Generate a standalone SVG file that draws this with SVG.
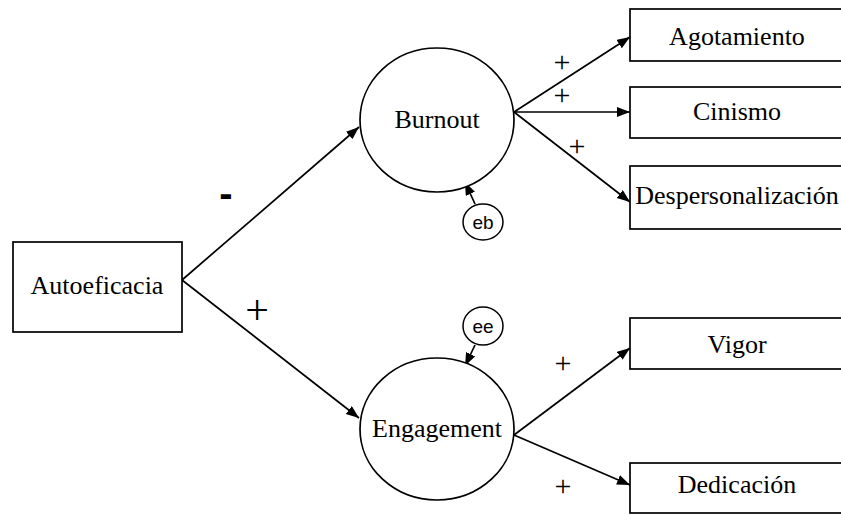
<svg xmlns="http://www.w3.org/2000/svg" width="841" height="515" viewBox="0 0 841 515">
  <style>
    .box { fill: #ffffff; stroke: #000000; stroke-width: 1.7; }
    .lat { fill: #ffffff; stroke: #000000; stroke-width: 1.7; }
    .err { fill: #ffffff; stroke: #000000; stroke-width: 1.5; }
    .lbl { font-family: "Liberation Serif", "Times New Roman", serif; font-size: 26px; fill: #000000; text-anchor: middle; }
    .elbl { font-family: "Liberation Sans", Arial, sans-serif; font-size: 19px; fill: #000000; text-anchor: middle; }
    .sign { font-family: "Liberation Serif", "Times New Roman", serif; font-size: 30px; fill: #000000; text-anchor: middle; }
    .conn line { stroke: #000000; stroke-width: 1.7; marker-end: url(#arr); }
  </style>
  <defs>
    <marker id="arr" markerWidth="15" markerHeight="11" refX="13" refY="5" orient="auto" markerUnits="userSpaceOnUse">
      <path d="M0,0 L13,5 L0,10 z" fill="#000000"/>
    </marker>
  </defs>
  <rect width="841" height="515" fill="#ffffff"/>

  <g id="connectors" class="conn">
    <line x1="182" y1="280" x2="359" y2="127"/>
    <line x1="182" y1="280" x2="359" y2="418"/>
    <line x1="514" y1="112" x2="630" y2="37"/>
    <line x1="514" y1="112" x2="630" y2="112"/>
    <line x1="514" y1="112" x2="630" y2="202"/>
    <line x1="475" y1="204" x2="465" y2="182"/>
    <line x1="475" y1="345" x2="465" y2="366"/>
    <line x1="514" y1="435" x2="630" y2="348"/>
    <line x1="514" y1="435" x2="630" y2="485"/>
  </g>

  <g id="labels">
    <text x="226" y="207" font-family="Liberation Sans, Arial, sans-serif" font-size="40" font-weight="bold" text-anchor="middle">-</text>
    <text x="257" y="324" font-family="Liberation Serif, Times New Roman, serif" font-size="42" text-anchor="middle">+</text>
    <text class="sign" x="562" y="72">+</text>
    <text class="sign" x="562" y="105">+</text>
    <text class="sign" x="577" y="156">+</text>
    <text class="sign" x="563" y="373">+</text>
    <text class="sign" x="563" y="496">+</text>
  </g>

  <g id="autoeficacia">
    <rect class="box" x="13" y="242" width="169" height="90"/>
    <text class="lbl" x="97" y="294">Autoeficacia</text>
  </g>

  <g id="burnout">
    <ellipse class="lat" cx="437" cy="120" rx="77" ry="72"/>
    <text class="lbl" x="437" y="128">Burnout</text>
  </g>

  <g id="eb">
    <ellipse class="err" cx="483" cy="222" rx="20" ry="18"/>
    <text class="elbl" x="483" y="229">eb</text>
  </g>

  <g id="engagement">
    <ellipse class="lat" cx="437" cy="429" rx="77" ry="71"/>
    <text class="lbl" x="437" y="437">Engagement</text>
  </g>

  <g id="ee">
    <ellipse class="err" cx="483" cy="326" rx="20" ry="19"/>
    <text class="elbl" x="483" y="333">ee</text>
  </g>

  <g id="agotamiento">
    <rect class="box" x="630" y="9" width="216" height="52"/>
    <text class="lbl" x="737" y="45">Agotamiento</text>
  </g>

  <g id="cinismo">
    <rect class="box" x="630" y="87" width="216" height="51"/>
    <text class="lbl" x="737" y="120">Cinismo</text>
  </g>

  <g id="despersonalizacion">
    <rect class="box" x="630" y="166" width="216" height="63"/>
    <text class="lbl" x="737" y="204">Despersonalización</text>
  </g>

  <g id="vigor">
    <rect class="box" x="630" y="318" width="216" height="51"/>
    <text class="lbl" x="737" y="353">Vigor</text>
  </g>

  <g id="dedicacion">
    <rect class="box" x="630" y="463" width="216" height="50"/>
    <text class="lbl" x="737" y="493">Dedicación</text>
  </g>
</svg>
